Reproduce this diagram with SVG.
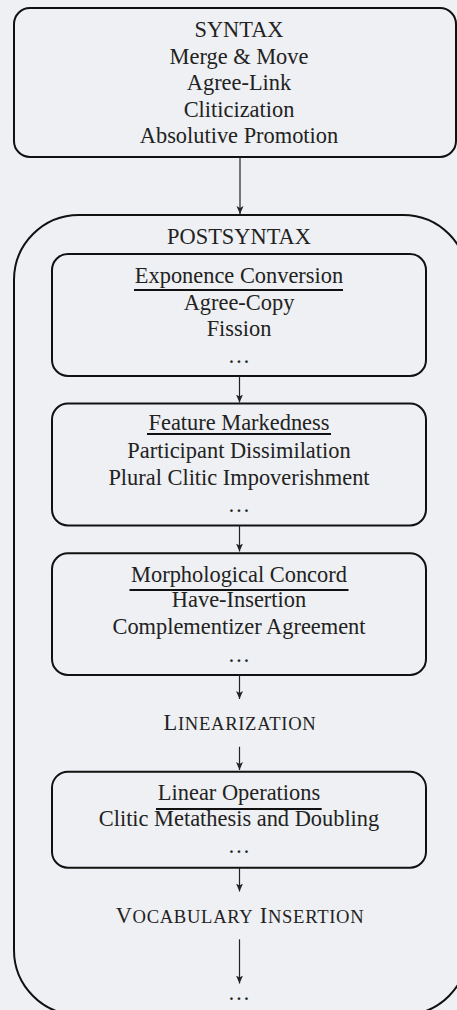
<svg xmlns="http://www.w3.org/2000/svg" width="457" height="1010" viewBox="0 0 457 1010">
<style>
.bg{fill:#eef0f3}
.box{fill:none;stroke:#111;stroke-width:2}
.t{font-family:"Liberation Serif","Times New Roman",serif;font-size:22.4px;fill:#222;text-anchor:middle}
.sc{font-family:"Liberation Serif","Times New Roman",serif;font-size:22.4px;fill:#222;text-anchor:middle;letter-spacing:0.7px}
.s{font-size:18.6px}
.ul{stroke:#111;stroke-width:1.8}
.con{stroke:#222;stroke-width:1.2;fill:none;marker-end:url(#ah)}
</style>
<defs>
<marker id="ah" viewBox="0 0 8 10" refX="8" refY="5" markerWidth="8" markerHeight="10" markerUnits="userSpaceOnUse" orient="auto">
<path d="M0,1.5 L8,5 L0,8.5 L2,5 Z" fill="#222"/>
</marker>
</defs>
<rect class="bg" x="0" y="0" width="457" height="1010"/>

<g id="syntax">
<rect class="box" x="14" y="8" width="442" height="149" rx="16"/>
<text class="t" x="239" y="37">SYNTAX</text>
<text class="t" x="239" y="63.5">Merge &amp; Move</text>
<text class="t" x="239" y="90">Agree-Link</text>
<text class="t" x="239" y="116.5">Cliticization</text>
<text class="t" x="239" y="143">Absolutive Promotion</text>
</g>

<g id="postsyntax">
<rect class="box" x="14" y="215" width="454" height="800" rx="65"/>
<text class="t" x="239" y="244">POSTSYNTAX</text>
</g>

<g id="exponence">
<rect class="box" x="52" y="254" width="374" height="122" rx="16"/>
<text class="t" x="239" y="283">Exponence Conversion</text>
<line class="ul" x1="134" y1="290" x2="343" y2="290"/>
<text class="t" x="239" y="309.5">Agree-Copy</text>
<text class="t" x="239" y="336">Fission</text>
<text class="t" x="239" y="362.5">…</text>
</g>

<g id="markedness">
<rect class="box" x="52" y="403.5" width="374" height="122" rx="16"/>
<text class="t" x="239" y="430">Feature Markedness</text>
<line class="ul" x1="147" y1="434" x2="331" y2="434"/>
<text class="t" x="239" y="458.3">Participant Dissimilation</text>
<text class="t" x="239" y="485">Plural Clitic Impoverishment</text>
<text class="t" x="239" y="511.7">…</text>
</g>

<g id="concord">
<rect class="box" x="52" y="553.3" width="374" height="121.7" rx="16"/>
<text class="t" x="239" y="581.5">Morphological Concord</text>
<line class="ul" x1="129.5" y1="590" x2="348.5" y2="590"/>
<text class="t" x="239" y="606.7">Have-Insertion</text>
<text class="t" x="239" y="634">Complementizer Agreement</text>
<text class="t" x="239" y="661.7">…</text>
</g>

<g id="linearization">
<text class="sc" x="240" y="730">L<tspan class="s">INEARIZATION</tspan></text>
</g>

<g id="linear-operations">
<rect class="box" x="52" y="771.7" width="374" height="96" rx="16"/>
<text class="t" x="239" y="800">Linear Operations</text>
<line class="ul" x1="156" y1="809" x2="321.7" y2="809"/>
<text class="t" x="239" y="826">Clitic Metathesis and Doubling</text>
<text class="t" x="239" y="853.3">…</text>
</g>

<g id="vocabulary-insertion">
<text class="sc" x="240" y="923.3">V<tspan class="s">OCABULARY</tspan> I<tspan class="s">NSERTION</tspan></text>
</g>

<g id="end">
<text class="t" x="239" y="1000">…</text>
</g>

<g id="connectors">
<line class="con" x1="240" y1="157" x2="240" y2="214"/>
<line class="con" x1="239.5" y1="376" x2="239.5" y2="402.5"/>
<line class="con" x1="239.5" y1="525.5" x2="239.5" y2="551.5"/>
<line class="con" x1="239.5" y1="675" x2="239.5" y2="699"/>
<line class="con" x1="239.5" y1="746.7" x2="239.5" y2="770"/>
<line class="con" x1="239.5" y1="867.7" x2="239.5" y2="891.5"/>
<line class="con" x1="239.5" y1="939.3" x2="239.5" y2="983.5"/>
</g>
</svg>
